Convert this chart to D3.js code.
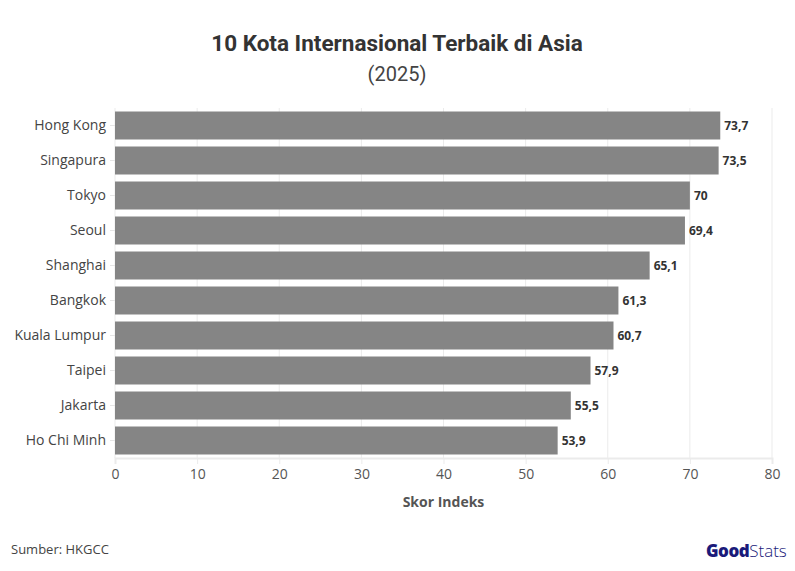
<!DOCTYPE html>
<html><head><meta charset="utf-8">
<script src="https://cdn.jsdelivr.net/npm/d3@7"></script>
<style>body{margin:0;background:#fff}svg{display:block}</style>
</head><body>
<script>
const categories = ["Hong Kong","Singapura","Tokyo","Seoul","Shanghai","Bangkok","Kuala Lumpur","Taipei","Jakarta","Ho Chi Minh"];
const values = [73.7,73.5,70,69.4,65.1,61.3,60.7,57.9,55.5,53.9];
const xTicks = [0,10,20,30,40,50,60,70,80];

const W=795,H=571;
const svg=d3.select("body").append("svg").attr("width",W).attr("height",H);
const font="'Open Sans', 'Noto Sans', sans-serif";
const tfont="Roboto, 'Noto Sans', sans-serif";
const m={left:115,right:23,top:108,bottom:113};
const x=d3.scaleLinear().domain([0,80]).range([m.left,W-m.right]);
const y=d3.scaleBand().domain(categories).range([m.top,H-m.bottom]).paddingInner(0.2).paddingOuter(0.1);

svg.append("text").attr("x",397).attr("y",51).attr("text-anchor","middle")
  .attr("font-family",tfont).attr("font-weight",700).attr("font-size",22.5).attr("fill","#333")
  .text("10 Kota Internasional Terbaik di Asia");
svg.append("text").attr("x",397).attr("y",81).attr("text-anchor","middle")
  .attr("font-family",tfont).attr("font-size",20).attr("fill","#444").text("(2025)");

// grid
svg.append("g").selectAll("line").data(xTicks).join("line")
  .attr("x1",d=>x(d)).attr("x2",d=>x(d)).attr("y1",m.top).attr("y2",H-m.bottom)
  .attr("stroke","#ebebeb").attr("stroke-width",1);

// bars
svg.append("g").selectAll("rect").data(values).join("rect")
  .attr("x",x(0)).attr("y",(d,i)=>y(categories[i]))
  .attr("width",d=>x(d)-x(0)).attr("height",y.bandwidth())
  .attr("fill","#858585");

// value labels
svg.append("g").selectAll("text").data(values).join("text")
  .attr("x",d=>x(d)+4).attr("y",(d,i)=>y(categories[i])+y.bandwidth()/2+4)
  .attr("font-family",font).attr("font-weight",700).attr("font-size",12).attr("fill","#333")
  .text(d=>String(d).replace(".",","));

// y axis
const ya=svg.append("g").attr("transform",`translate(${m.left},0)`)
  .call(d3.axisLeft(y).tickSize(5).tickPadding(4));
ya.select(".domain").remove();
ya.selectAll("line").attr("stroke","#e6e6e6");
ya.selectAll("text").attr("font-family",font).attr("font-size",14).attr("fill","#444");

// x axis
const xa=svg.append("g").attr("transform",`translate(0,${H-m.bottom})`)
  .call(d3.axisBottom(x).tickValues(xTicks).tickSize(6).tickPadding(5));
xa.select(".domain").attr("stroke","#ebebeb").attr("stroke-width",2);
xa.selectAll("line").attr("stroke","#ebebeb");
xa.selectAll("text").attr("font-family",font).attr("font-size",14).attr("fill","#555");

svg.append("text").attr("x",(x(0)+x(80))/2).attr("y",507).attr("text-anchor","middle")
  .attr("font-family",font).attr("font-weight",700).attr("font-size",14).attr("fill","#555").text("Skor Indeks");

svg.append("text").attr("x",11).attr("y",554).attr("font-family",font).attr("font-size",13).attr("fill","#444").text("Sumber: HKGCC");

// logo
const lg=svg.append("text").attr("x",706).attr("y",557).attr("font-family",font).attr("font-size",17).attr("fill","#1a1a7a");
lg.append("tspan").attr("font-weight",800).attr("letter-spacing",-0.5).text("Good");
lg.append("tspan").attr("font-weight",300).text("Stats");
</script>
</body></html>
